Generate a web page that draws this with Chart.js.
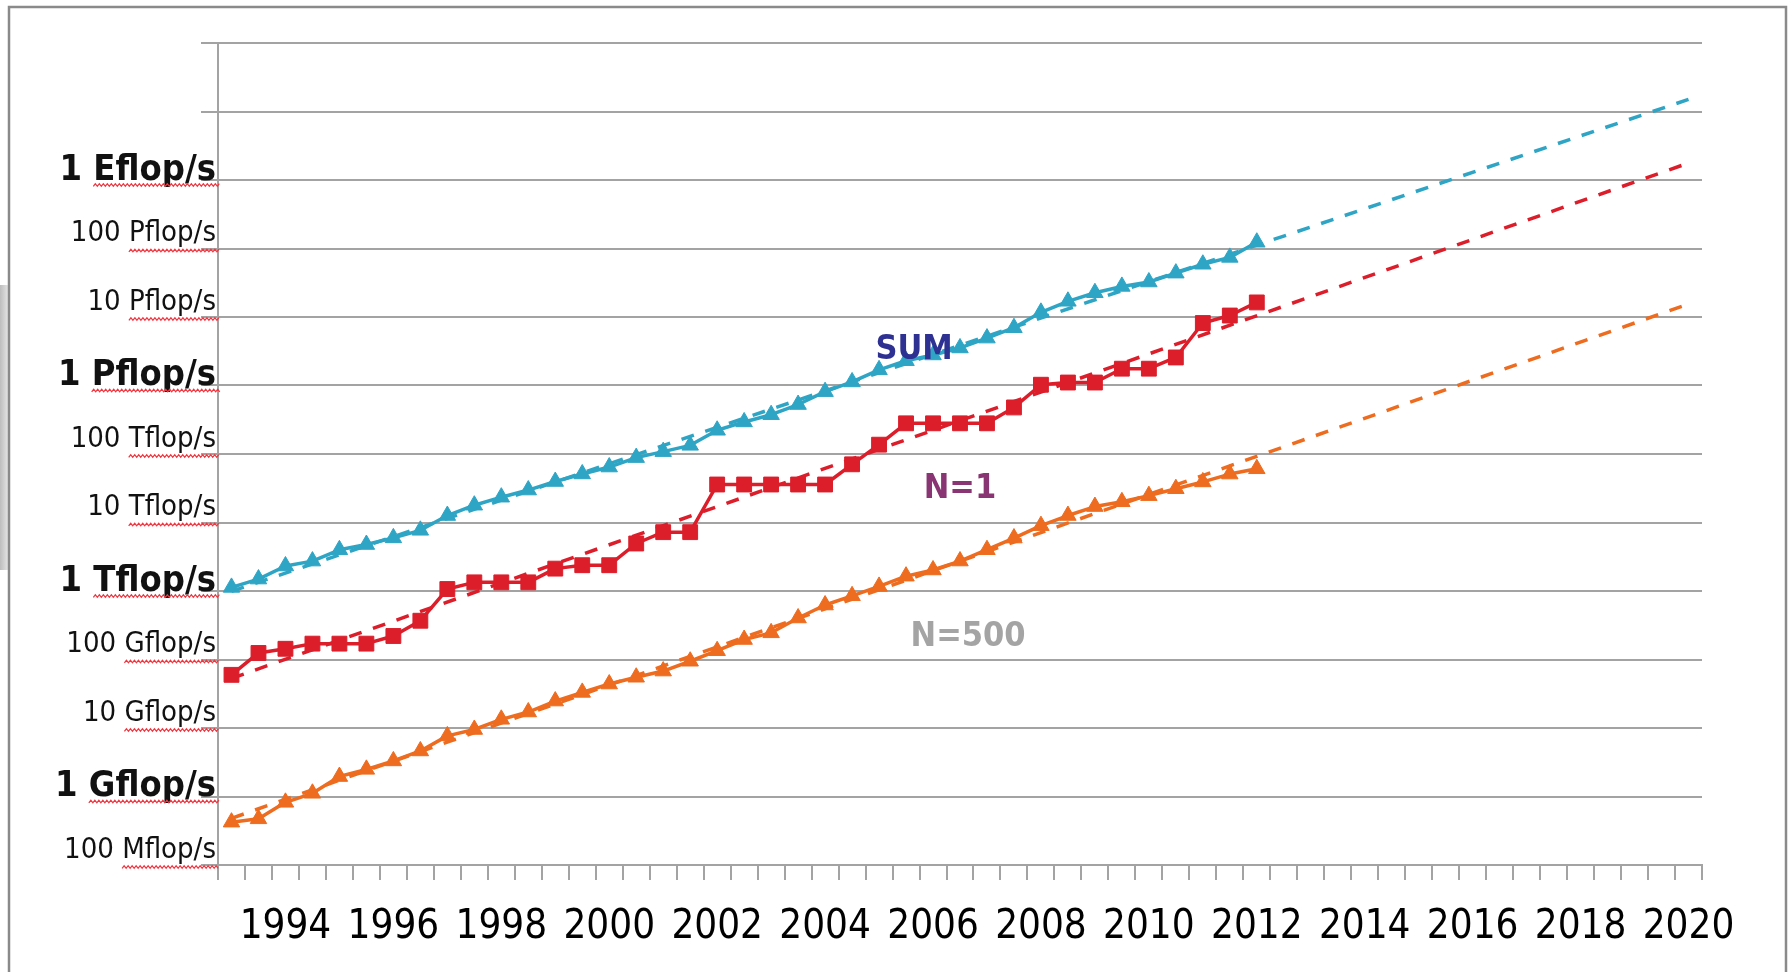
<!DOCTYPE html>
<html>
<head>
<meta charset="utf-8">
<title>Performance development</title>
<script src="https://cdn.jsdelivr.net/npm/chart.js@4.4.1/dist/chart.umd.min.js"></script>
<style>
  html, body { margin: 0; padding: 0; background: #fff; }
  canvas { display: block; }
</style>
</head>
<body>
<canvas id="perf" width="1789" height="972"></canvas>
<script>
// one category per list (June / November), 1993 to 2020
const lists = [
  '1993-06', '1993-11', '1994-06', '1994-11', '1995-06', '1995-11', '1996-06', '1996-11',
  '1997-06', '1997-11', '1998-06', '1998-11', '1999-06', '1999-11', '2000-06', '2000-11',
  '2001-06', '2001-11', '2002-06', '2002-11', '2003-06', '2003-11', '2004-06', '2004-11',
  '2005-06', '2005-11', '2006-06', '2006-11', '2007-06', '2007-11', '2008-06', '2008-11',
  '2009-06', '2009-11', '2010-06', '2010-11', '2011-06', '2011-11', '2012-06', '2012-11',
  '2013-06', '2013-11', '2014-06', '2014-11', '2015-06', '2015-11', '2016-06', '2016-11',
  '2017-06', '2017-11', '2018-06', '2018-11', '2019-06', '2019-11', '2020-06'
];

// measured performance in Gflop/s, June 1993 .. June 2012
const sumPerf = [
  1128, 1493, 2317, 2732, 3993, 4770, 5962, 7689, 12630, 17880, 23410, 29760, 39640,
  51090, 64530, 88570, 108300, 133800, 221900, 293800, 374500, 527200, 813200, 1127000,
  1694000, 2300000, 2791000, 3530000, 4921000, 6970000, 11700000, 16950000, 22600000,
  27950000, 32430000, 43660000, 58880000, 74150000, 123400000
];
const n1Perf = [
  59.7, 124.5, 143.4, 170.4, 170.4, 170.4, 220.4, 368.2, 1068, 1338, 1338, 1338, 2121,
  2379, 2379, 4938, 7226, 7226, 35860, 35860, 35860, 35860, 35860, 70720,
  136800, 280600, 280600, 280600, 280600, 478200, 1026000, 1105000, 1105000,
  1759000, 1759000, 2566000, 8162000, 10510000, 16320000
];
const n500Perf = [
  0.422, 0.472, 0.822, 1.114, 1.955, 2.489, 3.306, 4.619, 7.67, 9.51, 13.39, 17.12, 24.73,
  33.08, 43.82, 55.09, 67.78, 94.3, 134.3, 195.8, 245.1, 403.4, 624, 850.6,
  1166, 1646, 2026, 2737, 4005, 5929, 9000, 12640, 17090,
  20050, 24670, 31120, 39090, 50940, 60820
];

// exponential trend lines: value at the first list and at June 2020
const trendEnds = [lists[0], lists[54]];
const sumTrend = [990, 1.5e10];
const n1Trend = [53, 1.77e9];
const n500Trend = [0.48, 1.55e7];

// y axis (Gflop/s)
const yTickValues = [0.1, 1, 10, 100, 1e3, 1e4, 1e5, 1e6, 1e7, 1e8, 1e9, 1e10, 1e11];
const yTickLabels = [
  '100 Mflop/s', '1 Gflop/s', '10 Gflop/s', '100 Gflop/s', '1 Tflop/s', '10 Tflop/s',
  '100 Tflop/s', '1 Pflop/s', '10 Pflop/s', '100 Pflop/s', '1 Eflop/s', '', ''
];
const boldValues = [1, 1e3, 1e6, 1e9];

const seriesNames = ['SUM', 'N=1', 'N=500'];

const CYAN = '#2fa5c5';
const RED = '#dc1e2b';
const ORANGE = '#ee6c1f';
const GRID = '#a3a3a3';
const FAMILY = "'DejaVu Sans Condensed', 'DejaVu Sans', sans-serif";

Chart.defaults.font.family = FAMILY;

// bold labels get a short blank first line so they sit a little lower
const yFont = (v) => boldValues.includes(v)
  ? { size: 36, weight: 'bold', lineHeight: 0.3 }
  : { size: 29, weight: 'normal' };

const trend = (ends, vals) => ends.map((x, i) => ({ x, y: vals[i] }));

// white sheet with the grey outer frame
const sheet = {
  id: 'sheet',
  beforeDraw(chart) {
    const ctx = chart.ctx;
    ctx.save();
    ctx.fillStyle = '#fff';
    ctx.fillRect(0, 0, chart.width, chart.height);
    const g = ctx.createLinearGradient(0, 0, 8, 0);
    g.addColorStop(0, '#bdbdbd');
    g.addColorStop(1, '#e4e4e4');
    ctx.fillStyle = g;
    ctx.fillRect(0, 285, 8, 285);
    ctx.strokeStyle = '#8a8a8a';
    ctx.lineWidth = 2.5;
    ctx.strokeRect(9, 7, 1777, 1000);
    ctx.restore();
  }
};

// red wavy underline below the unit word of each y label
const spellMarks = {
  id: 'spellMarks',
  afterDraw(chart) {
    const ys = chart.scales.y;
    const ctx = chart.ctx;
    const right = ys.right - 2;
    ctx.save();
    ctx.strokeStyle = '#f2353f';
    ctx.lineWidth = 1.3;
    ys.ticks.forEach((t, i) => {
      const label = yTickLabels[i];
      if (!label) return;
      const f = yFont(t.value);
      ctx.font = `${f.weight} ${f.size}px ${FAMILY}`;
      const word = label.split(' ')[1];
      const x0 = right - ctx.measureText(word).width;
      const x1 = right + 4;
      const py = ys.getPixelForValue(t.value) + (f.weight === 'bold' ? 5 : 2);
      ctx.beginPath();
      for (let x = x0, k = 0; x <= x1; x += 2, k++) {
        const yy = py + (k % 2 ? -1.3 : 1.3);
        if (k) ctx.lineTo(x, yy); else ctx.moveTo(x, yy);
      }
      ctx.stroke();
    });
    ctx.restore();
  }
};

// series names written next to the curves
const names = {
  id: 'names',
  afterDatasetsDraw(chart) {
    const { ctx, scales: { x, y } } = chart;
    const spots = [[25.3, 3.3e6, '#2e3192'], [27.0, 3.1e4, '#8a3573'], [27.3, 210, '#a4a4a4']];
    ctx.save();
    ctx.font = `bold 34px ${FAMILY}`;
    ctx.textAlign = 'center';
    ctx.textBaseline = 'middle';
    spots.forEach(([i, v, c], k) => {
      ctx.fillStyle = c;
      ctx.fillText(seriesNames[k], x.getPixelForValue(i), y.getPixelForValue(v));
    });
    ctx.restore();
  }
};

new Chart(document.getElementById('perf'), {
  type: 'line',
  data: {
    labels: lists,
    datasets: [
      {
        label: seriesNames[0], data: sumPerf, borderColor: CYAN, backgroundColor: CYAN,
        pointStyle: 'triangle', pointRadius: 9.5, pointBorderWidth: 1
      },
      {
        label: seriesNames[1], data: n1Perf, borderColor: RED, backgroundColor: RED,
        pointStyle: 'rect', pointRadius: 10.5, pointBorderWidth: 1
      },
      {
        label: seriesNames[2], data: n500Perf, borderColor: ORANGE, backgroundColor: ORANGE,
        pointStyle: 'triangle', pointRadius: 9.5, pointBorderWidth: 1
      },
      { label: 'SUM trend', data: trend(trendEnds, sumTrend), borderColor: CYAN, borderDash: [13, 12], pointRadius: 0 },
      { label: 'N=1 trend', data: trend(trendEnds, n1Trend), borderColor: RED, borderDash: [13, 12], pointRadius: 0 },
      { label: 'N=500 trend', data: trend(trendEnds, n500Trend), borderColor: ORANGE, borderDash: [13, 12], pointRadius: 0 }
    ]
  },
  options: {
    responsive: false,
    animation: false,
    layout: { padding: { left: 0, top: 43, right: 87, bottom: 0 } },
    elements: {
      line: { borderWidth: 3.5, tension: 0, borderCapStyle: 'butt', borderJoinStyle: 'round' }
    },
    plugins: {
      legend: { display: false },
      tooltip: { enabled: false }
    },
    scales: {
      x: {
        type: 'category',
        offset: true,
        grid: {
          offset: true, drawOnChartArea: false, drawTicks: true,
          tickLength: 15, color: GRID, lineWidth: 2
        },
        border: { display: true, color: GRID, width: 2 },
        ticks: {
          autoSkip: false, maxRotation: 0, minRotation: 0, padding: 24,
          color: '#000', font: { size: 40 },
          callback: (v, i) => {
            const yr = lists[i].slice(0, 4);
            return lists[i].endsWith('-06') && yr % 2 === 0 ? yr : '';
          }
        },
        afterFit: (s) => { s.height = 107; }
      },
      y: {
        type: 'logarithmic',
        min: yTickValues[0],
        max: yTickValues[yTickValues.length - 1],
        afterBuildTicks: (axis) => { axis.ticks = yTickValues.map((value) => ({ value })); },
        grid: { color: GRID, lineWidth: 2, tickLength: 17, drawTicks: true },
        border: { display: true, color: GRID, width: 2 },
        ticks: {
          autoSkip: false, padding: -15, labelOffset: -15, color: '#111',
          font: (c) => yFont(c.tick ? c.tick.value : 0),
          callback: (v, i) => boldValues.includes(v) ? ['', yTickLabels[i]] : yTickLabels[i]
        },
        afterFit: (s) => { s.width = 218; }
      }
    }
  },
  plugins: [sheet, spellMarks, names]
});
</script>
</body>
</html>
